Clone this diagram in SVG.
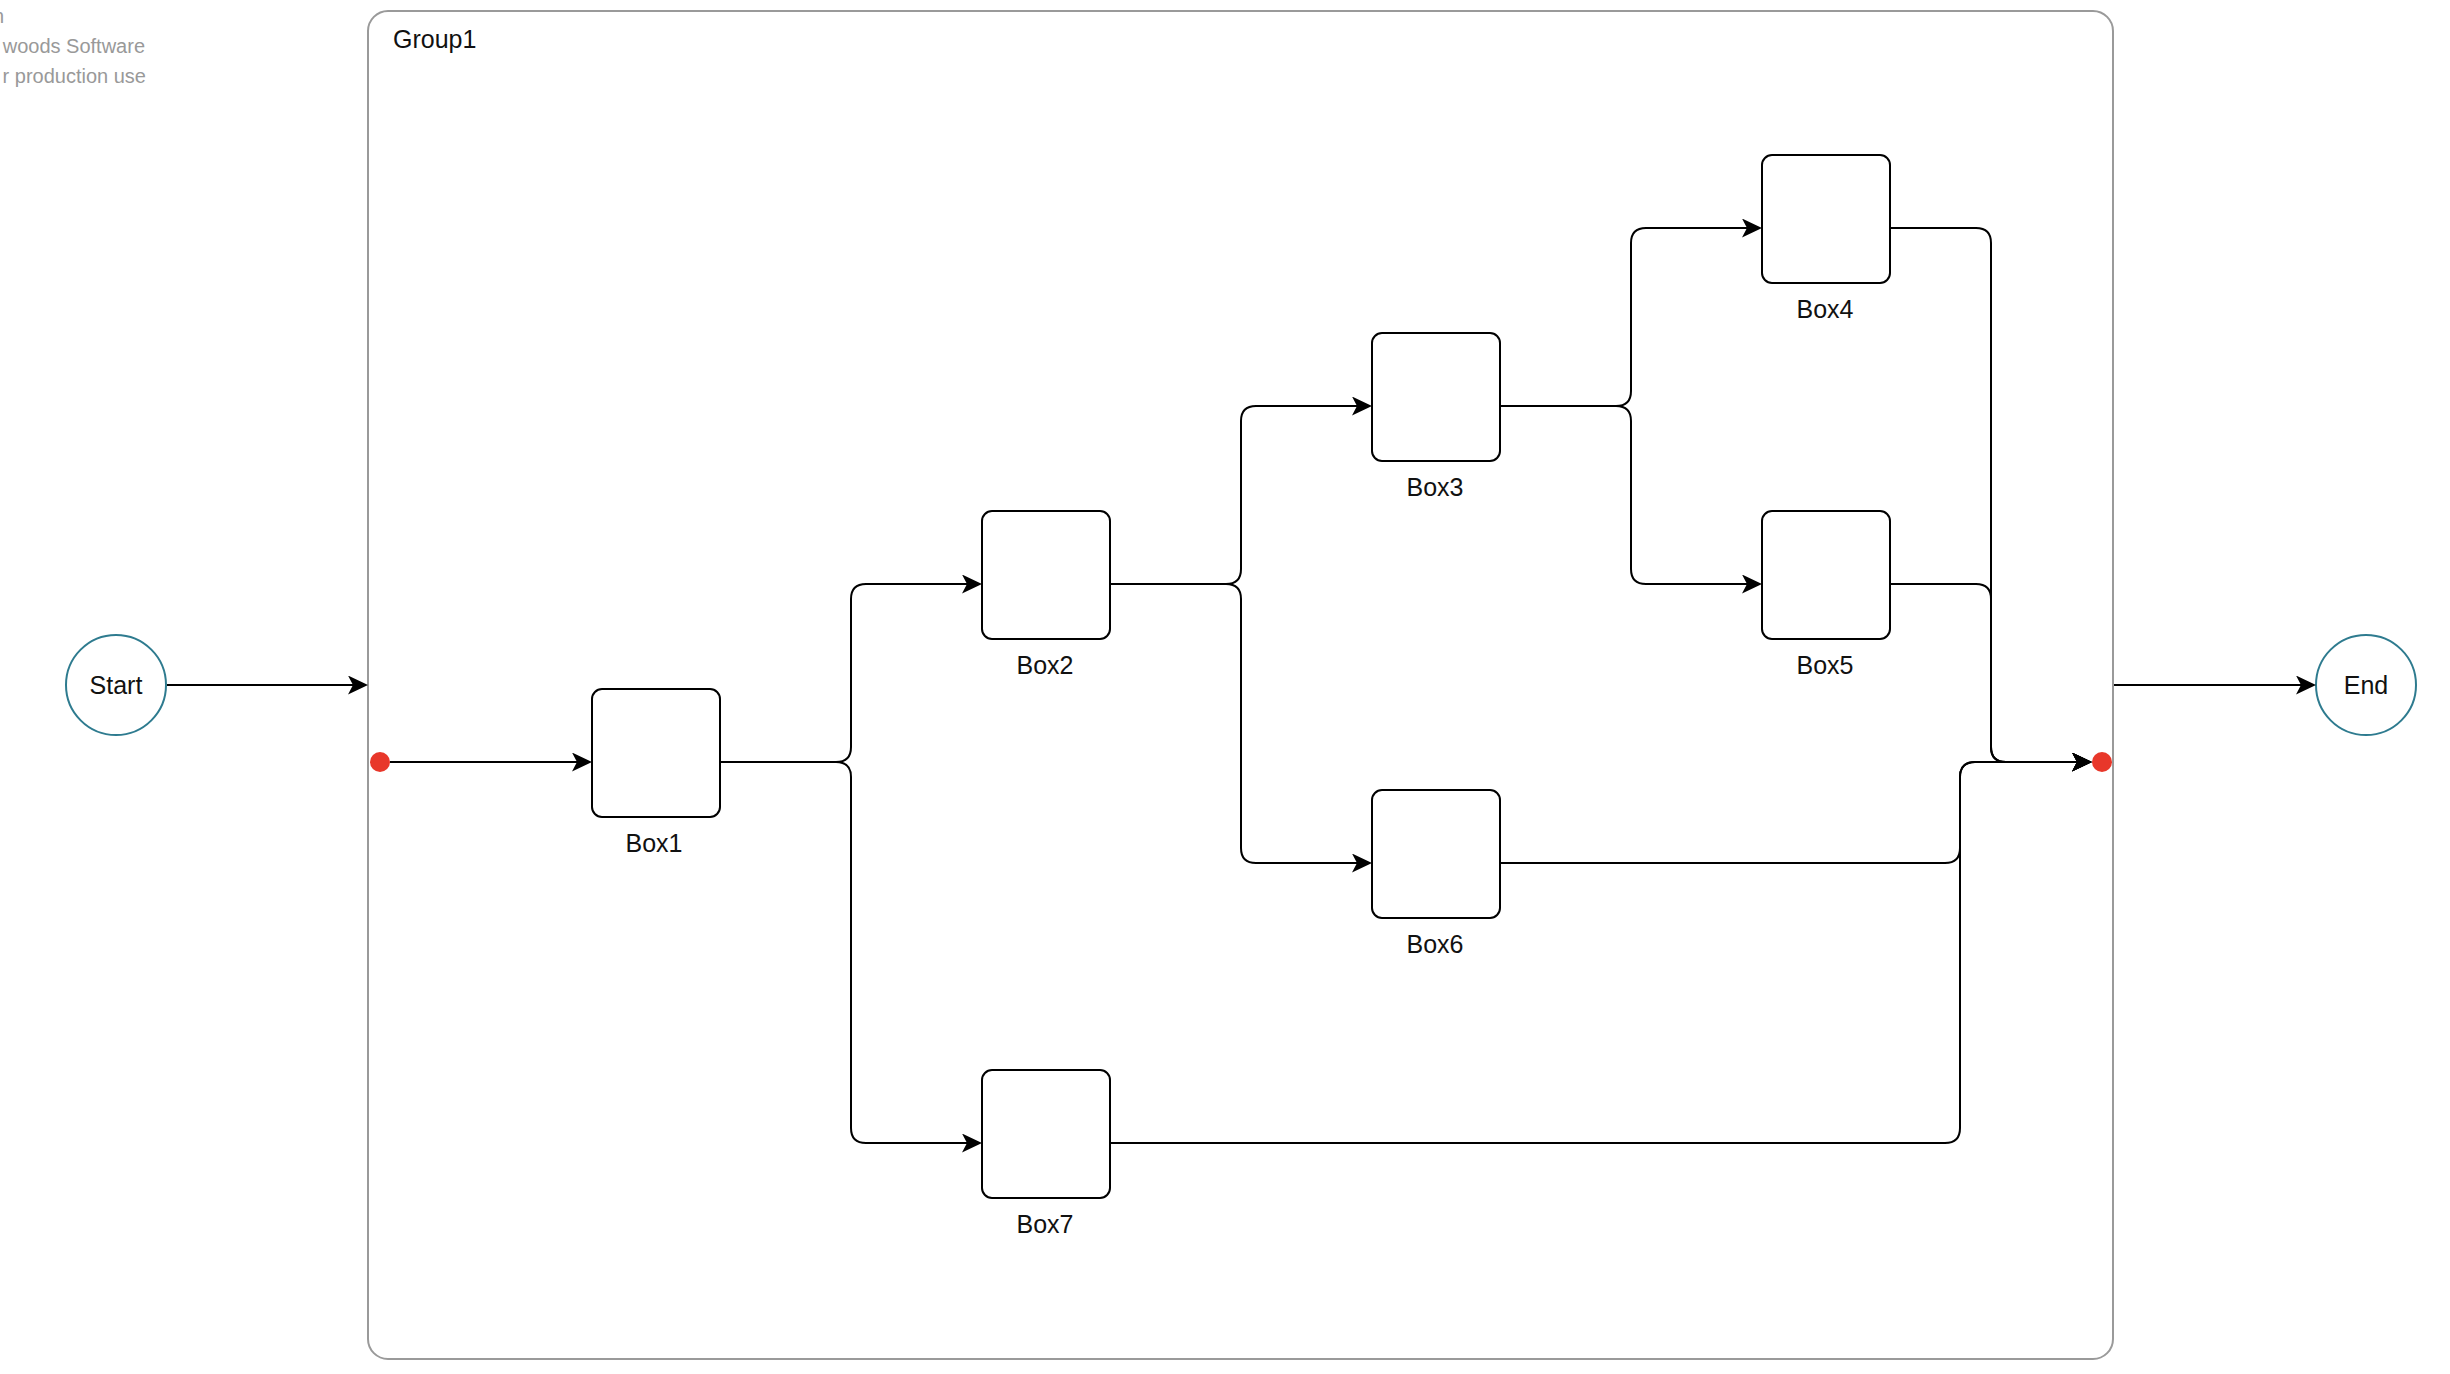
<svg xmlns="http://www.w3.org/2000/svg" width="2450" height="1374" viewBox="0 0 2450 1374">
  <defs>
    <style>
      .lbl { font-family: "Liberation Sans", Arial, Helvetica, sans-serif; font-size: 25px; fill: #111; }
      .mid { text-anchor: middle; }
      .wm { font-family: "Liberation Sans", Arial, Helvetica, sans-serif; font-size: 20px; fill: #999; text-anchor: end; }
      .box { fill: #fff; stroke: #000; stroke-width: 2; }
      .term { fill: #fff; stroke: #2e7b8f; stroke-width: 2; }
      .grp { fill: #fff; stroke: #9a9a9a; stroke-width: 2; }
      .port { fill: #e8372a; }
      .edge { fill: none; stroke: #000; stroke-width: 2; marker-end: url(#arrow); }
    </style>
    <marker id="arrow" markerUnits="userSpaceOnUse" markerWidth="20" markerHeight="19" viewBox="0 0 20 19" refX="16" refY="9.5" orient="auto">
      <path d="M0,0 L20,9.5 L0,19 L5,9.5 Z" fill="#000"/>
    </marker>
  </defs>
  <rect width="2450" height="1374" fill="#fff"/>

  <g id="watermark">
    <text class="wm" x="4" y="23">n</text>
    <text class="wm" x="145" y="53">woods Software</text>
    <text class="wm" x="146" y="83">r production use</text>
  </g>

  <g id="Group1">
    <rect class="grp" x="368" y="11" width="1745" height="1348" rx="20" ry="20"/>
    <text class="lbl" x="393" y="48">Group1</text>
  </g>

  <g id="Start">
    <circle class="term" cx="116" cy="685" r="50"/>
    <text class="lbl mid" x="116" y="694">Start</text>
  </g>
  <g id="End">
    <circle class="term" cx="2366" cy="685" r="50"/>
    <text class="lbl mid" x="2366" y="694">End</text>
  </g>

  <g id="Box1">
    <rect class="box" x="592" y="689" width="128" height="128" rx="10" ry="10"/>
    <text class="lbl mid" x="654" y="852">Box1</text>
  </g>
  <g id="Box2">
    <rect class="box" x="982" y="511" width="128" height="128" rx="10" ry="10"/>
    <text class="lbl mid" x="1045" y="674">Box2</text>
  </g>
  <g id="Box3">
    <rect class="box" x="1372" y="333" width="128" height="128" rx="10" ry="10"/>
    <text class="lbl mid" x="1435" y="496">Box3</text>
  </g>
  <g id="Box4">
    <rect class="box" x="1762" y="155" width="128" height="128" rx="10" ry="10"/>
    <text class="lbl mid" x="1825" y="318">Box4</text>
  </g>
  <g id="Box5">
    <rect class="box" x="1762" y="511" width="128" height="128" rx="10" ry="10"/>
    <text class="lbl mid" x="1825" y="674">Box5</text>
  </g>
  <g id="Box6">
    <rect class="box" x="1372" y="790" width="128" height="128" rx="10" ry="10"/>
    <text class="lbl mid" x="1435" y="953">Box6</text>
  </g>
  <g id="Box7">
    <rect class="box" x="982" y="1070" width="128" height="128" rx="10" ry="10"/>
    <text class="lbl mid" x="1045" y="1233">Box7</text>
  </g>

  <g id="connectors">
    <path class="edge" d="M167,685 H364"/>
    <path class="edge" d="M2114,685 H2312"/>
    <path class="edge" d="M390,762 H588"/>
    <path class="edge" d="M721,762 H836 Q851,762 851,747 V599 Q851,584 866,584 H978"/>
    <path class="edge" d="M721,762 H836 Q851,762 851,777 V1128 Q851,1143 866,1143 H978"/>
    <path class="edge" d="M1111,584 H1226 Q1241,584 1241,569 V421 Q1241,406 1256,406 H1368"/>
    <path class="edge" d="M1111,584 H1226 Q1241,584 1241,599 V848 Q1241,863 1256,863 H1368"/>
    <path class="edge" d="M1501,406 H1616 Q1631,406 1631,391 V243 Q1631,228 1646,228 H1758"/>
    <path class="edge" d="M1501,406 H1616 Q1631,406 1631,421 V569 Q1631,584 1646,584 H1758"/>
    <path class="edge" d="M1891,228 H1976 Q1991,228 1991,243 V747 Q1991,762 2006,762 H2088"/>
    <path class="edge" d="M1891,584 H1976 Q1991,584 1991,599 V747 Q1991,762 2006,762 H2088"/>
    <path class="edge" d="M1501,863 H1945 Q1960,863 1960,848 V777 Q1960,762 1975,762 H2088"/>
    <path class="edge" d="M1111,1143 H1945 Q1960,1143 1960,1128 V777 Q1960,762 1975,762 H2088"/>
  </g>

  <g id="ports">
    <circle class="port" cx="380" cy="762" r="10"/>
    <circle class="port" cx="2102" cy="762" r="10"/>
  </g>
</svg>
